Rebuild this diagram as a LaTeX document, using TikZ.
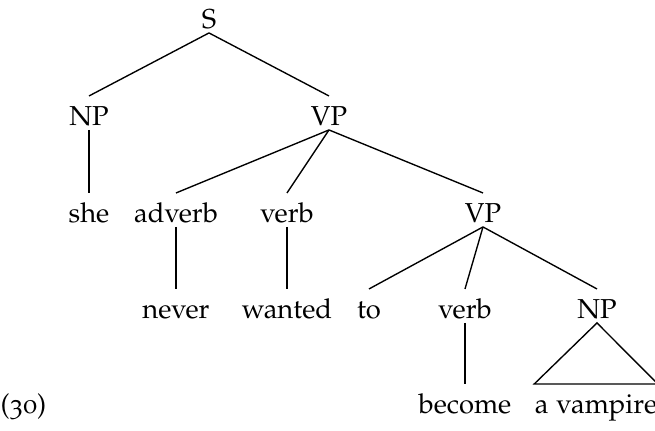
\documentclass[tikz,border=0pt]{standalone}
\usepackage[T1]{fontenc}
\usepackage[osf]{mathpazo}
\usepackage{tikz}

\begin{document}
\begin{tikzpicture}[
    x=0.365pt, y=-0.365pt,
    word/.style={inner sep=0pt, text height=10.4pt, text depth=1.6pt, anchor=base},
    branch/.style={line width=0.5pt}
]
    \useasboundingbox (0,0) rectangle (655,430);

    % Top of the tree
    \node[word] (s) at (209,28) {S};
    \node[word] (np) at (89,125) {NP};
    \node[word] (vp) at (329,125) {VP};

    % Third row
    \node[word] (she) at (89,222) {she};
    \node[word] (adv) at (176,222) {adverb};
    \node[word] (verb) at (287,222) {verb};
    \node[word] (vpb) at (483,222) {VP};

    % Fourth row
    \node[word] (never) at (176,318) {never};
    \node[word] (wanted) at (287,318) {wanted};
    \node[word] (to) at (369,318) {to};
    \node[word] (verbb) at (465,318) {verb};
    \node[word] (npb) at (597,318) {NP};

    % Leaves
    \node[word] (become) at (465,413) {become};
    \node[word] (vamp) at (596,413) {a vampire};

    % Example number
    \node[word, anchor=base west] (num) at (0,413) {(30)};

    % Branches
    \draw[branch] (s.south) -- (np.north);
    \draw[branch] (s.south) -- (vp.north);
    \draw[branch] (np.south) -- (she.north);
    \draw[branch] (vp.south) -- (adv.north);
    \draw[branch] (vp.south) -- (verb.north);
    \draw[branch] (vp.south) -- (vpb.north);
    \draw[branch] (adv.south) -- (never.north);
    \draw[branch] (verb.south) -- (wanted.north);
    \draw[branch] (vpb.south) -- (to.north);
    \draw[branch] (vpb.south) -- (verbb.north);
    \draw[branch] (vpb.south) -- (npb.north);
    \draw[branch] (verbb.south) -- (become.north);
    \draw[branch] (npb.south) -- (vamp.north west) -- (vamp.north east) -- cycle;
\end{tikzpicture}
\end{document}
